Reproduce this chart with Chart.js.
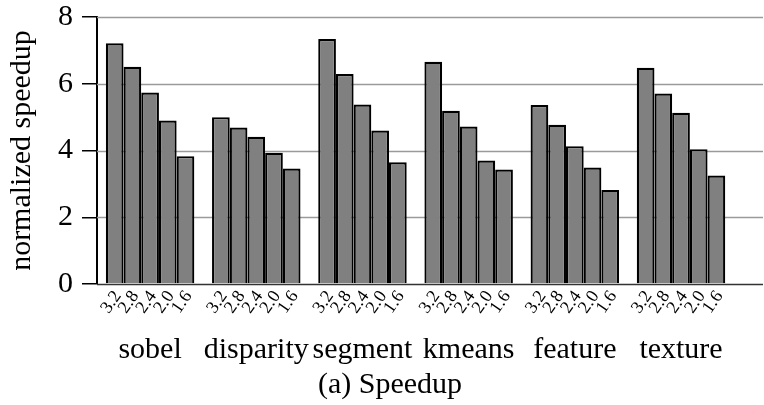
<!DOCTYPE html>
<html>
<head>
<meta charset="utf-8">
<script src="https://cdn.jsdelivr.net/npm/chart.js@4"></script>
<style>
  html, body { margin: 0; padding: 0; background: #fff; }
  #wrap { width: 764px; height: 405px; }
</style>
</head>
<body>
<div id="wrap"><canvas id="speedup"></canvas></div>
<script>
const benchmarks = ['sobel', 'disparity', 'segment', 'kmeans', 'feature', 'texture'];
const freqs = ['3.2', '2.8', '2.4', '2.0', '1.6'];
const speed32 = [7.21, 5.00, 7.34, 6.66, 5.36, 6.48];
const speed28 = [6.51, 4.69, 6.29, 5.19, 4.77, 5.71];
const speed24 = [5.74, 4.41, 5.38, 4.72, 4.13, 5.13];
const speed20 = [4.90, 3.93, 4.60, 3.70, 3.49, 4.04];
const speed16 = [3.83, 3.46, 3.65, 3.43, 2.82, 3.25];
const yTicks = [0, 2, 4, 6, 8];

const serif = 'Liberation Serif';
const series = [speed32, speed28, speed24, speed20, speed16];

// gray grid lines run past the last group to the right edge
const gridPlugin = {
  id: 'wideGrid',
  beforeDatasetsDraw(chart) {
    const ctx = chart.ctx;
    const y = chart.scales.y;
    const left = chart.chartArea.left;
    ctx.save();
    y.ticks.forEach(t => {
      const py = Math.round(y.getPixelForValue(t.value)) + 0.5;
      ctx.strokeStyle = t.value === 0 ? '#333' : '#9a9a9a';
      ctx.lineWidth = 1.5;
      ctx.beginPath();
      ctx.moveTo(left, py);
      ctx.lineTo(chart.width - 1, py);
      ctx.stroke();
    });
    ctx.restore();
  }
};

// frequency label under each bar, plus the caption
const labelPlugin = {
  id: 'barLabels',
  afterDraw(chart) {
    const ctx = chart.ctx;
    const base = chart.chartArea.bottom;
    ctx.save();
    ctx.fillStyle = '#000';
    ctx.font = '18px "' + serif + '"';
    ctx.textAlign = 'right';
    ctx.textBaseline = 'middle';
    chart.data.datasets.forEach((ds, i) => {
      chart.getDatasetMeta(i).data.forEach(bar => {
        ctx.save();
        ctx.translate(bar.x + 3, base + 9);
        ctx.rotate(-55 * Math.PI / 180);
        ctx.fillText(ds.label, 0, 0);
        ctx.restore();
      });
    });
    ctx.font = '30px "' + serif + '"';
    ctx.textAlign = 'center';
    ctx.textBaseline = 'alphabetic';
    ctx.fillText('(a) Speedup', 390, 393);
    ctx.restore();
  }
};

new Chart(document.getElementById('speedup'), {
  type: 'bar',
  data: {
    labels: benchmarks,
    datasets: freqs.map((f, i) => ({
      label: f,
      data: series[i],
      backgroundColor: '#808080',
      borderColor: '#000',
      borderWidth: 2.2,
      borderSkipped: 'bottom'
    }))
  },
  options: {
    responsive: true,
    maintainAspectRatio: false,
    animation: false,
    devicePixelRatio: 1,
    categoryPercentage: 5 / 6,
    barPercentage: 1.0,
    layout: { padding: { top: 17, right: 16, bottom: 0, left: 0 } },
    plugins: {
      legend: { display: false },
      tooltip: { enabled: false }
    },
    scales: {
      x: {
        grid: { display: false },
        border: { display: false },
        ticks: {
          color: '#000',
          font: { family: serif, size: 30 },
          padding: 40,
          maxRotation: 0,
          autoSkip: false
        },
        afterFit(scale) { scale.height = 405 - 284; }
      },
      y: {
        min: 0,
        max: 8,
        afterBuildTicks(scale) { scale.ticks = yTicks.map(v => ({ value: v })); },
        grid: {
          drawOnChartArea: false,
          drawTicks: true,
          tickLength: 15,
          color: '#000',
          lineWidth: 1.5
        },
        border: { display: true, color: '#000', width: 2 },
        ticks: {
          color: '#000',
          font: { family: serif, size: 30 },
          padding: 9
        },
        title: {
          display: true,
          text: 'normalized speedup',
          color: '#000',
          font: { family: serif, size: 30 },
          padding: { top: 4, bottom: 0 }
        },
        afterFit(scale) {
          scale.width = 97;
          scale.paddingTop = 0;
          scale.paddingBottom = 0;
        }
      }
    }
  },
  plugins: [gridPlugin, labelPlugin]
});
</script>
</body>
</html>
